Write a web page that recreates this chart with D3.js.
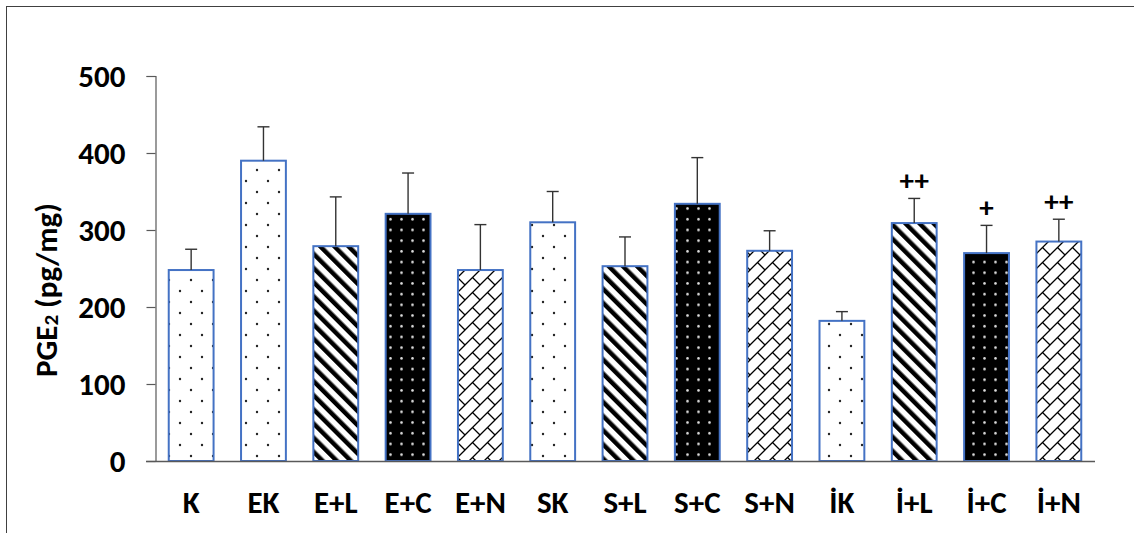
<!DOCTYPE html>
<html>
<head>
<meta charset="utf-8">
<script src="https://cdn.jsdelivr.net/npm/d3@7"></script>
<style>
  html, body { margin: 0; padding: 0; background: #fff; }
  svg { display: block; }
  text { font-family: Carlito, Lato, "Open Sans", sans-serif; font-weight: bold; fill: #000; }
</style>
</head>
<body>
<div id="chart"></div>
<script>
// data
const groups = ["K", "EK", "E+L", "E+C", "E+N", "SK", "S+L", "S+C", "S+N", "İK", "İ+L", "İ+C", "İ+N"];
const means  = [248, 390, 279, 321, 248, 310, 253, 334, 273, 182, 309, 270, 285];
const errors = [27, 44, 64, 53, 59, 40, 38, 60, 26, 12, 32, 36, 29];
const fills  = ["dots", "dots", "stripes", "blackdots", "brick", "dots", "stripes", "blackdots", "brick", "dots", "stripes", "blackdots", "brick"];
const marks  = ["", "", "", "", "", "", "", "", "", "", "++", "+", "++"];
const yTicks = [0, 100, 200, 300, 400, 500];

const W = 1134, H = 533;
const svg = d3.create("svg").attr("width", W).attr("height", H);

// outer frame
svg.append("rect")
    .attr("x", 6.5).attr("y", 6.5)
    .attr("width", W + 20).attr("height", H + 20)
    .attr("fill", "none").attr("stroke", "#404040").attr("stroke-width", 1);

const defs = svg.append("defs");

// sparse black dots
const pDots = defs.append("pattern").attr("id", "dots")
    .attr("patternUnits", "userSpaceOnUse").attr("width", 22).attr("height", 22);
pDots.append("rect").attr("width", 22).attr("height", 22).attr("fill", "#fff");
pDots.append("circle").attr("cx", 4).attr("cy", 5).attr("r", 1.2).attr("fill", "#222");
pDots.append("circle").attr("cx", 15).attr("cy", 16).attr("r", 1.2).attr("fill", "#222");

// wide downward diagonal
const pStr = defs.append("pattern").attr("id", "stripes")
    .attr("patternUnits", "userSpaceOnUse").attr("width", 10).attr("height", 10)
    .attr("patternTransform", "rotate(-45)");
pStr.append("rect").attr("width", 10).attr("height", 10).attr("fill", "#fff");
pStr.append("rect").attr("x", 0).attr("width", 4.5).attr("height", 10).attr("fill", "#000");

// black with white dots
const pBd = defs.append("pattern").attr("id", "blackdots")
    .attr("patternUnits", "userSpaceOnUse").attr("width", 11).attr("height", 10.7);
pBd.append("rect").attr("width", 11).attr("height", 10.7).attr("fill", "#000");
pBd.append("circle").attr("cx", 5.5).attr("cy", 5.3).attr("r", 1.3).attr("fill", "#ddd");

// diagonal brick
const s = 15;
const pBr = defs.append("pattern").attr("id", "brick")
    .attr("patternUnits", "userSpaceOnUse").attr("width", s).attr("height", s);
pBr.append("rect").attr("width", s).attr("height", s).attr("fill", "#fff");
pBr.append("path")
    .attr("d", `M0,${s}L${s},0M${s / 2},${s / 2}L${s},${s}M-1,1L1,-1M${s - 1},${s + 1}L${s + 1},${s - 1}`)
    .attr("stroke", "#000").attr("stroke-width", 1.3).attr("fill", "none");

// scales
const x = d3.scaleBand().domain(groups).range([155, 1095]).paddingInner(0.38).paddingOuter(0.19);
const y = d3.scaleLinear().domain([0, 500]).range([461, 76]);

// y axis
const gy = svg.append("g").attr("transform", "translate(155.5,0)")
    .call(d3.axisLeft(y).tickValues(yTicks).tickSize(9).tickPadding(21).tickFormat(d3.format("d")));
gy.select(".domain").attr("stroke", "#595959").attr("stroke-width", 1.2);
gy.selectAll(".tick line").attr("stroke", "#595959").attr("stroke-width", 1.2);
gy.selectAll(".tick text").attr("font-size", 31).attr("font-family", null).attr("dy", "0.34em");

// bars
const bw = x.bandwidth();
svg.append("g").selectAll("rect").data(groups).join("rect")
    .attr("x", d => x(d))
    .attr("y", (d, i) => y(means[i]))
    .attr("width", bw)
    .attr("height", (d, i) => y(0) - y(means[i]))
    .attr("fill", (d, i) => `url(#${fills[i]})`)
    .attr("stroke", "#4472C4").attr("stroke-width", 2);

// error bars (upper only)
const eb = svg.append("g").attr("stroke", "#333").attr("stroke-width", 1.4);
eb.selectAll("line.v").data(groups).join("line").attr("class", "v")
    .attr("x1", d => x(d) + bw / 2).attr("x2", d => x(d) + bw / 2)
    .attr("y1", (d, i) => y(means[i])).attr("y2", (d, i) => y(means[i] + errors[i]));
eb.selectAll("line.c").data(groups).join("line").attr("class", "c")
    .attr("x1", d => x(d) + bw / 2 - 6).attr("x2", d => x(d) + bw / 2 + 6)
    .attr("y1", (d, i) => y(means[i] + errors[i])).attr("y2", (d, i) => y(means[i] + errors[i]));

// significance marks
svg.append("g").selectAll("text").data(groups).join("text")
    .attr("x", d => x(d) + bw / 2)
    .attr("y", (d, i) => y(means[i] + errors[i]) - 8)
    .attr("text-anchor", "middle")
    .attr("font-size", 29)
    .text((d, i) => marks[i]);

// x axis line
svg.append("line")
    .attr("x1", 146).attr("x2", 1095).attr("y1", 461.5).attr("y2", 461.5)
    .attr("stroke", "#595959").attr("stroke-width", 1.6);

// category labels
svg.append("g").selectAll("text").data(groups).join("text")
    .attr("x", d => x(d) + bw / 2)
    .attr("y", 513)
    .attr("text-anchor", "middle")
    .attr("font-size", 31)
    .text(d => d);

// y axis title
const yt = svg.append("text")
    .attr("transform", "translate(57,290) rotate(-90)")
    .attr("text-anchor", "middle")
    .attr("font-size", 31);
yt.append("tspan").text("PGE");
yt.append("tspan").attr("font-size", 21).attr("dy", 1).text("2");
yt.append("tspan").attr("dy", -1).text(" (pg/mg)");

document.getElementById("chart").appendChild(svg.node());
</script>
</body>
</html>
